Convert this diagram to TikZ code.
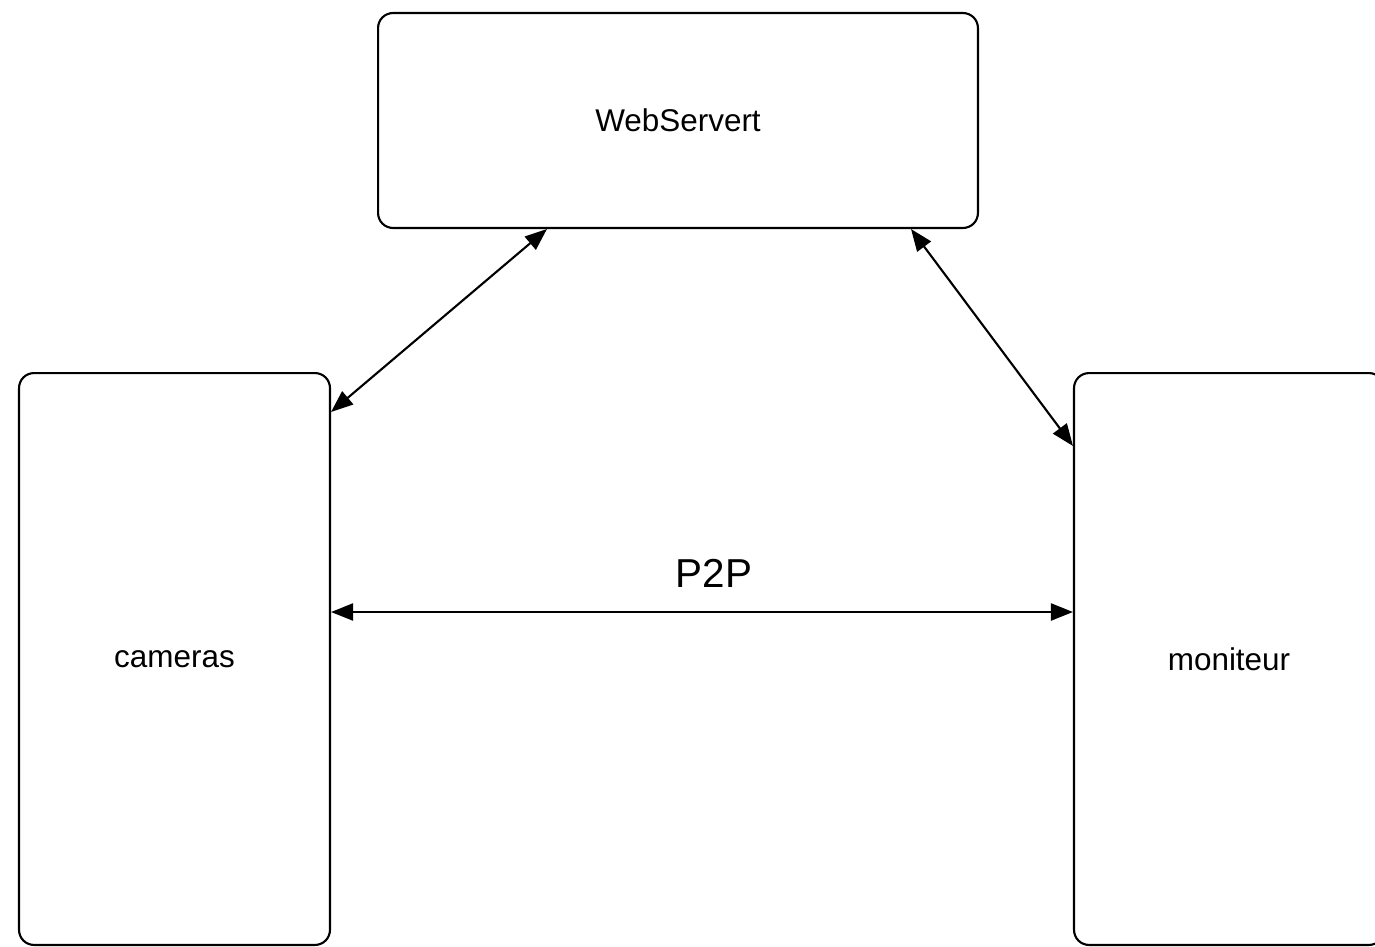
\documentclass[tikz,border=0pt]{standalone}
\usepackage{fontspec}
\setmainfont{Liberation Sans}
\usetikzlibrary{positioning}
\usetikzlibrary{arrows.meta}

\begin{document}
\begin{tikzpicture}[x=0.02cm,y=-0.02cm,
					roundbox/.style={rectangle, rounded corners=0.3cm, draw=black, line width=1.2pt, fill=white, font=\fontsize{17.9}{21}\selectfont},
					link/.style={line width=1.2pt, {Triangle[length=0.44cm,width=0.34cm]}-{Triangle[length=0.44cm,width=0.34cm]}},
					]
					\useasboundingbox (0,0) rectangle (1375,946);
					%Nodes
					\node[roundbox, minimum width=12cm, minimum height=4.3cm]      (web) 	at 	(678,120.5)     {WebServert};
					\node[roundbox, minimum width=6.22cm, minimum height=11.44cm]  (cam) 	at 	(174.5,659)     {cameras};
					\node[roundbox, minimum width=6.2cm, minimum height=11.44cm]   (mon) 	at 	(1229,659)      {moniteur};

					%Lines
					\draw[link] ([yshift=-0.8cm]cam.north east) -- ([xshift=3.4cm]web.south west);
					\draw[link] ([xshift=-1.36cm]web.south east) -- ([yshift=-1.48cm]mon.north west);
					\draw[link] ([yshift=0.94cm]cam.east) -- node[above=0.36cm, xshift=0.24cm, font=\fontsize{23}{27}\selectfont] (ptp) {P2P} ([yshift=0.94cm]mon.west);
				\end{tikzpicture}
\end{document}
